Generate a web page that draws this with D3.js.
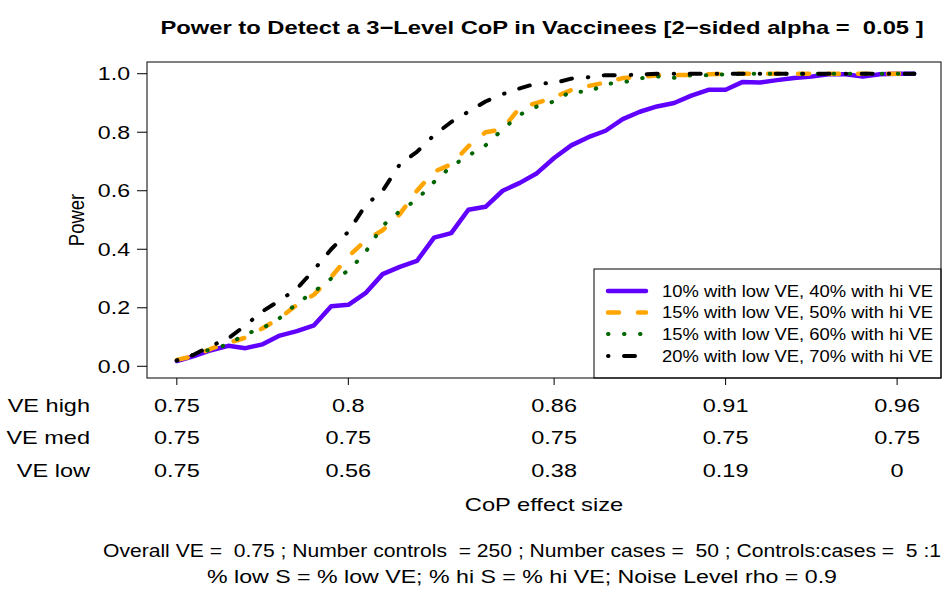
<!DOCTYPE html>
<html>
<head>
<meta charset="utf-8">
<script src="https://cdn.jsdelivr.net/npm/d3@7"></script>
<style>
  body { margin: 0; background: #fff; }
  text { font-family: "Liberation Sans", Arial, sans-serif; fill: #000; white-space: pre; }
</style>
</head>
<body>
<svg id="chart" width="946" height="589"></svg>
<script>
// CoP effect size grid, expressed as VE in the high group
const veHigh = [0.750, 0.755, 0.760, 0.765, 0.770, 0.775, 0.780, 0.785, 0.790, 0.795,
  0.800, 0.805, 0.810, 0.815, 0.820, 0.825, 0.830, 0.835, 0.840, 0.845,
  0.850, 0.855, 0.860, 0.865, 0.870, 0.875, 0.880, 0.885, 0.890, 0.895,
  0.900, 0.905, 0.910, 0.915, 0.920, 0.925, 0.930, 0.935, 0.940, 0.945,
  0.950, 0.955, 0.960, 0.965];

// power for each scenario
const power10_40 = [0.018, 0.035, 0.055, 0.070, 0.062, 0.075, 0.105, 0.120, 0.140, 0.205,
  0.210, 0.250, 0.315, 0.340, 0.360, 0.440, 0.455, 0.535, 0.545, 0.600,
  0.627, 0.660, 0.712, 0.755, 0.783, 0.805, 0.845, 0.870, 0.888, 0.900,
  0.925, 0.945, 0.945, 0.972, 0.970, 0.978, 0.985, 0.990, 0.998, 0.998,
  0.990, 0.998, 1.000, 1.000];
const power15_50 = [0.022, 0.035, 0.060, 0.080, 0.098, 0.130, 0.165, 0.210, 0.245, 0.305,
  0.375, 0.430, 0.465, 0.520, 0.600, 0.665, 0.690, 0.752, 0.800, 0.810,
  0.885, 0.900, 0.920, 0.944, 0.958, 0.970, 0.985, 0.988, 0.995, 0.995,
  0.996, 0.998, 1.000, 1.000, 1.000, 1.000, 1.000, 1.000, 1.000, 1.000,
  1.000, 1.000, 1.000, 1.000];
const power15_60 = [0.020, 0.040, 0.058, 0.075, 0.110, 0.130, 0.165, 0.215, 0.255, 0.300,
  0.325, 0.390, 0.480, 0.530, 0.570, 0.630, 0.683, 0.720, 0.755, 0.810,
  0.860, 0.888, 0.905, 0.940, 0.937, 0.965, 0.970, 0.984, 0.991, 0.986,
  0.995, 0.995, 0.998, 1.000, 1.000, 1.000, 1.000, 1.000, 1.000, 1.000,
  1.000, 1.000, 1.000, 1.000];
const power20_70 = [0.020, 0.040, 0.070, 0.095, 0.140, 0.188, 0.225, 0.265, 0.330, 0.400,
  0.460, 0.550, 0.600, 0.690, 0.733, 0.790, 0.835, 0.870, 0.905, 0.930,
  0.950, 0.967, 0.968, 0.983, 0.988, 0.995, 0.995, 0.997, 1.000, 1.000,
  1.000, 1.000, 1.000, 1.000, 1.000, 1.000, 1.000, 1.000, 1.000, 1.000,
  1.000, 1.000, 1.000, 1.000];

const seriesLabels = ["10% with low VE, 40% with hi VE", "15% with low VE, 50% with hi VE",
  "15% with low VE, 60% with hi VE", "20% with low VE, 70% with hi VE"];

// x axis labels: three rows under each tick
const tickAt = [0.75, 0.80, 0.86, 0.91, 0.96];
const tickVEhigh = ["0.75", "0.8", "0.86", "0.91", "0.96"];
const tickVEmed = ["0.75", "0.75", "0.75", "0.75", "0.75"];
const tickVElow = ["0.75", "0.56", "0.38", "0.19", "0"];
const rowNames = ["VE high", "VE med", "VE low"];
const yTicks = [0, 0.2, 0.4, 0.6, 0.8, 1.0];

const svg = d3.select("#chart");
const plotL = 147, plotR = 941, plotT = 62, plotB = 378;

let x = d3.scaleLinear().domain([0.7413, 0.9728]).range([plotL, plotR]);
let y = d3.scaleLinear().domain([-0.04, 1.04]).range([plotB, plotT]);

// the original picture is wider than tall, so its text is stretched sideways
let stretch = (sel, k) => {
  sel.each(function () {
    let w = this.getComputedTextLength();
    d3.select(this).attr("textLength", w * k).attr("lengthAdjust", "spacingAndGlyphs");
  });
};

// title
svg.append("text")
  .attr("x", 542).attr("y", 34)
  .attr("text-anchor", "middle")
  .style("font-size", "19px").style("font-weight", "bold")
  .text("Power to Detect a 3\u2212Level CoP in Vaccinees [2\u2212sided alpha =  0.05 ]")
  .call(stretch, 1.25);

// y axis
let yAxis = svg.append("g");
yAxis.selectAll("line").data(yTicks).enter().append("line")
  .attr("x1", plotL - 10).attr("x2", plotL)
  .attr("y1", d => y(d)).attr("y2", d => y(d))
  .attr("stroke", "#000");
yAxis.selectAll("text").data(yTicks).enter().append("text")
  .attr("x", plotL - 17).attr("y", d => y(d))
  .attr("dy", "0.36em")
  .attr("text-anchor", "end")
  .style("font-size", "18.5px")
  .text(d => d3.format(".1f")(d))
  .call(stretch, 1.25);

svg.append("text")
  .attr("transform", "translate(84," + y(0.5) + ") scale(1.2,1) rotate(-90)")
  .attr("text-anchor", "middle")
  .style("font-size", "18.5px")
  .text("Power");

// x axis ticks + three label rows
let xAxis = svg.append("g");
xAxis.selectAll("line").data(tickAt).enter().append("line")
  .attr("x1", d => x(d)).attr("x2", d => x(d))
  .attr("y1", plotB).attr("y2", plotB + 7)
  .attr("stroke", "#000");

let rows = [tickVEhigh, tickVEmed, tickVElow];
let rowY = [405, 437, 470];
rows.forEach((labels, i) => {
  xAxis.selectAll(".row" + i).data(labels).enter().append("text")
    .attr("class", "row" + i)
    .attr("x", (d, j) => x(tickAt[j])).attr("y", rowY[i])
    .attr("dy", "0.36em")
    .attr("text-anchor", "middle")
    .style("font-size", "18.5px")
    .text(d => d)
    .call(stretch, 1.27);
  xAxis.append("text")
    .attr("x", 90).attr("y", rowY[i])
    .attr("dy", "0.36em")
    .attr("text-anchor", "end")
    .style("font-size", "18.5px")
    .text(rowNames[i])
    .call(stretch, 1.27);
});

svg.append("text")
  .attr("x", (plotL + plotR) / 2).attr("y", 504)
  .attr("dy", "0.36em")
  .attr("text-anchor", "middle")
  .style("font-size", "18.5px")
  .text("CoP effect size")
  .call(stretch, 1.28);

// footnote lines
svg.append("text")
  .attr("x", 522).attr("y", 551).attr("dy", "0.36em")
  .attr("text-anchor", "middle")
  .style("font-size", "17.5px")
  .attr("textLength", 838).attr("lengthAdjust", "spacingAndGlyphs")
  .text("Overall VE =  0.75 ; Number controls  = 250 ; Number cases =  50 ; Controls:cases =  5 :1");
svg.append("text")
  .attr("x", 522).attr("y", 577).attr("dy", "0.36em")
  .attr("text-anchor", "middle")
  .style("font-size", "17.5px")
  .attr("textLength", 630).attr("lengthAdjust", "spacingAndGlyphs")
  .text("% low S = % low VE; % hi S = % hi VE; Noise Level rho = 0.9");

// lines
let styles = [
  { color: "#6000ff", width: 4.5, dash: null },
  { color: "#ffa500", width: 4.5, dash: "11,19" },
  { color: "#006400", width: 4, dash: "0.5,15.5" },
  { color: "#000000", width: 4, dash: "0.5,15.5,11,16" }
];
let allSeries = [power10_40, power15_50, power15_60, power20_70];

let line = d3.line()
  .x((d, i) => x(veHigh[i]))
  .y(d => y(d));

allSeries.forEach((s, i) => {
  svg.append("path")
    .datum(s)
    .attr("d", line)
    .attr("fill", "none")
    .attr("stroke", styles[i].color)
    .attr("stroke-width", styles[i].width)
    .attr("stroke-linecap", "round")
    .attr("stroke-linejoin", "round")
    .attr("stroke-dasharray", styles[i].dash);
});

// legend
let legend = svg.append("g");
legend.append("rect")
  .attr("x", 594).attr("y", 269)
  .attr("width", plotR - 594).attr("height", plotB - 269)
  .attr("fill", "#fff").attr("stroke", "#000");
let legY = [291, 312.5, 334, 356];
seriesLabels.forEach((lab, i) => {
  legend.append("line")
    .attr("x1", 608).attr("x2", 646)
    .attr("y1", legY[i]).attr("y2", legY[i])
    .attr("stroke", styles[i].color)
    .attr("stroke-width", styles[i].width)
    .attr("stroke-linecap", "round")
    .attr("stroke-dasharray", styles[i].dash);
  legend.append("text")
    .attr("x", 662).attr("y", legY[i])
    .attr("dy", "0.36em")
    .style("font-size", "16.5px")
    .attr("textLength", 271).attr("lengthAdjust", "spacingAndGlyphs")
    .text(lab);
});

// plot frame
svg.append("rect")
  .attr("x", plotL).attr("y", plotT)
  .attr("width", plotR - plotL).attr("height", plotB - plotT)
  .attr("fill", "none").attr("stroke", "#000");
</script>
</body>
</html>
